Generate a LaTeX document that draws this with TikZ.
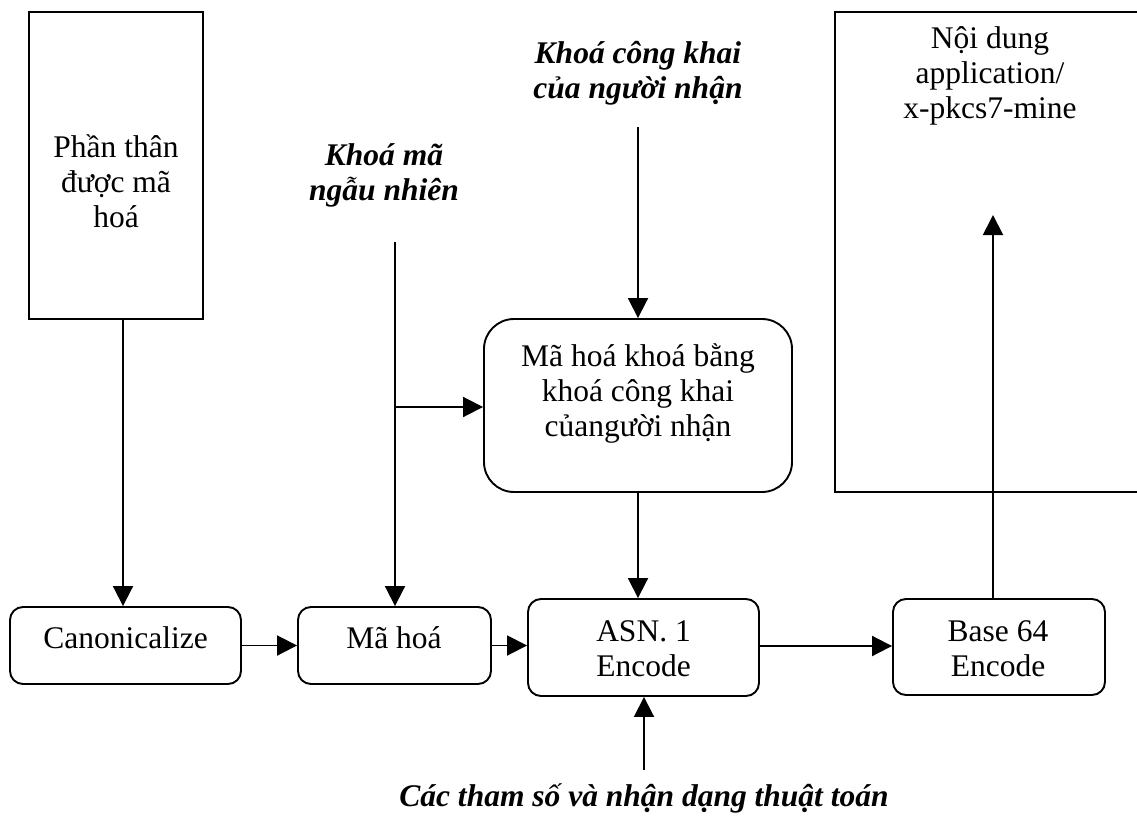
\documentclass[tikz,border=0pt]{standalone}
\usepackage{fontspec}
\setmainfont{Liberation Serif}
\usetikzlibrary{arrows.meta}
\begin{document}
\begin{tikzpicture}[x=1pt,y=-1pt,
  box/.style={draw, line width=1.9pt, inner sep=0pt},
  roundbox/.style={box, rounded corners=13pt},
  txt/.style={font=\fontsize{31.5}{35}\selectfont, align=center, anchor=base, inner sep=0pt},
  lbl/.style={txt, font=\fontsize{31.5}{35}\selectfont\bfseries\itshape},
  link/.style={line width=1.9pt},
  arr/.style={link, -{Triangle[length=20pt,width=20pt]}}]
\useasboundingbox (0,0) rectangle (1137,816);
\clip (0,0) rectangle (1137,816);

% boxes
\node[box, minimum width=174pt, minimum height=307pt] (body) at (116,165.5) {};
\node[box, minimum width=310pt, minimum height=480pt] (content) at (990,252) {};
\node[roundbox, rounded corners=30pt, minimum width=308pt, minimum height=173pt] (keyenc) at (638,405.5) {};
\node[roundbox, minimum width=231pt, minimum height=77pt] (canon) at (125.5,645.5) {};
\node[roundbox, minimum width=193pt, minimum height=77pt] (enc) at (394.5,645.5) {};
\node[roundbox, minimum width=231pt, minimum height=97pt] (asn) at (643.5,647.5) {};
\node[roundbox, minimum width=212pt, minimum height=96pt] (b64) at (999,647) {};

% box texts (anchored at the baseline of their last line)
\node[txt] (body-t) at (116,227) {Phần thân\\được mã\\hoá};
\node[txt] (content-t) at (990,118) {Nội dung\\application/\\x-pkcs7-mine};
\node[txt] (keyenc-t) at (638,436) {Mã hoá khoá bằng\\khoá công khai\\củangười nhận};
\node[txt] (canon-t) at (125.5,648) {Canonicalize};
\node[txt] (enc-t) at (394,648) {Mã hoá};
\node[txt] (asn-t) at (643.5,676) {ASN. 1\\Encode};
\node[txt] (b64-t) at (998,676) {Base 64\\Encode};

% input labels
\node[lbl] (randkey) at (384,200) {Khoá mã\\ngẫu nhiên};
\node[lbl] (pubkey) at (638,98) {Khoá công khai\\của người nhận};
\node[lbl] (params) at (644,806) {Các tham số và nhận dạng thuật toán};

% free ends of connectors
\coordinate (rk) at (395,242);
\coordinate (pk) at (638,127);
\coordinate (pa) at (644,770);
\coordinate (ct) at (993,215);

% connectors
\draw[arr] (body.south -| 123,0) -- (canon.north -| 123,0);
\draw[arr] (canon.east) -- (canon.east -| enc.west);
\draw[arr] (enc.east) -- (enc.east -| asn.west);
\draw[arr] (asn.east |- 0,646) -- (b64.west |- 0,646);
\draw[arr] (rk) -- (rk |- enc.north);
\draw[arr] (rk |- 0,407) -- (keyenc.west |- 0,407);
\draw[arr] (pk) -- (keyenc.north);
\draw[arr] (keyenc.south) -- (keyenc.south |- asn.north);
\draw[arr] (pa) -- (pa |- asn.south);
\draw[arr] (b64.north -| ct) -- (ct);
\end{tikzpicture}
\end{document}
